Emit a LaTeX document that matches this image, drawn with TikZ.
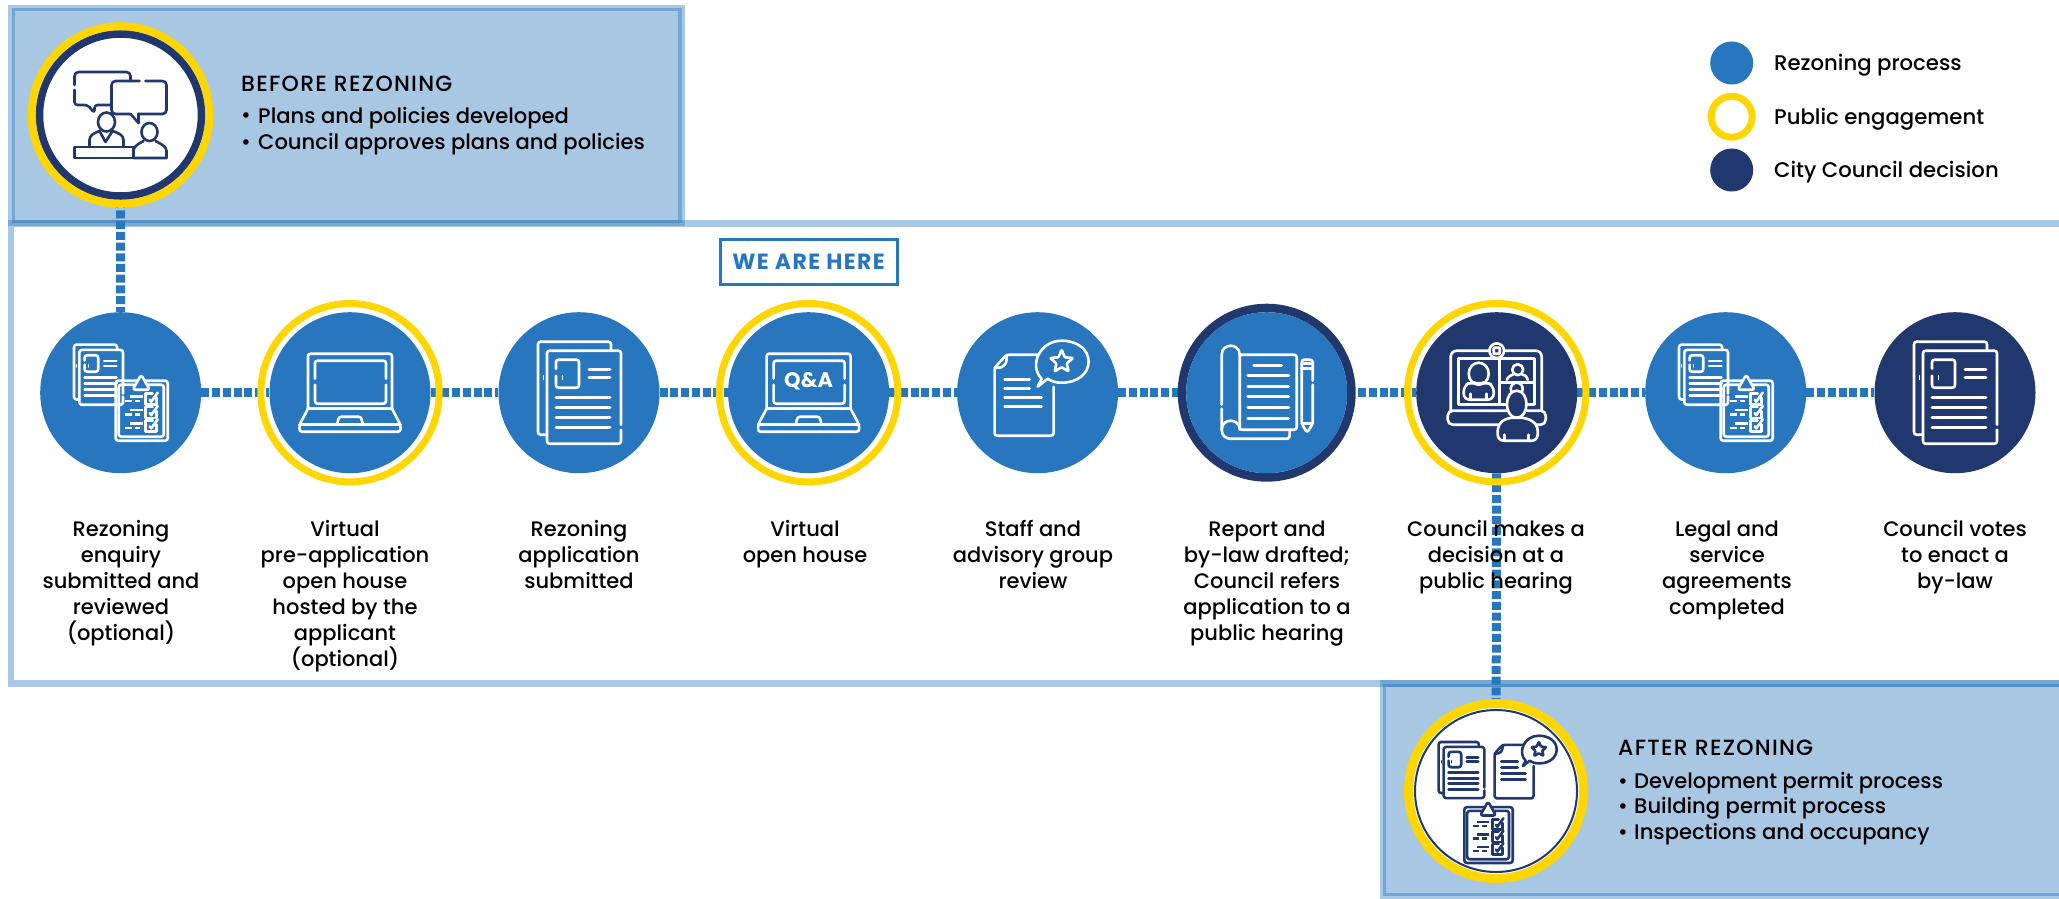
\documentclass[tikz,border=0pt]{standalone}
\usepackage{fontspec}
\setmainfont{Poppins Medium}[BoldFont=Poppins Bold]
\newfontfamily\headfont{Poppins Medium}[LetterSpace=5.8]
\newfontfamily\herefont{Poppins Bold}[LetterSpace=6.5]
\definecolor{cblue}{HTML}{2876BD}
\definecolor{cnavy}{HTML}{21386F}
\definecolor{cgold}{HTML}{FFD600}
\definecolor{cpale}{HTML}{A8C7E3}
\pgfdeclarelayer{framelayer}
\pgfdeclarelayer{connlayer}
\pgfsetlayers{framelayer,connlayer,main}
\tikzset{
  disc/.style={circle,fill=#1,inner sep=0pt,minimum size=161pt},
  ringgold/.style={circle,draw=cgold,line width=7pt,inner sep=0pt,minimum size=178.4pt},
  ringnavy/.style={circle,draw=cnavy,line width=8.5pt,inner sep=0pt,minimum size=169.5pt},
  dots/.style={cblue,line width=9pt,dash pattern=on 8pt off 2.7pt},
  band/.style={draw=cblue,draw opacity=.4,line width=6.5pt},
  steptext/.style={anchor=north,align=center,inner sep=0pt,font=\fontsize{21}{26}\selectfont,text=black},
  bodytext/.style={anchor=west,inner sep=0pt,font=\fontsize{21.1}{26}\selectfont,text=black},
  headtext/.style={anchor=west,inner sep=0pt,font=\headfont\fontsize{22}{26}\selectfont,text=black},
  legendtext/.style={anchor=west,inner sep=0pt,font=\fontsize{21.2}{26}\selectfont,text=black},
  ic/.style={line width=2.6pt,line cap=round,line join=round,rounded corners=2.5pt},
  icbg/.style={fill=cblue},
  pics/docs/.style={code={
    \draw[ic] (42,32) -- (42,-42) -- (-32,-42) -- (-32,51) -- (42,51) -- (42,37);
    \draw[ic] (32,-42) -- (32,-51) -- (-41,-51) -- (-41,42) -- (-32,42);
    \draw[ic] (-23,-24) -- (-23,-33) -- (0,-33) -- (0,-5) -- (-23,-5) -- (-23,-17);
    \draw[ic,line width=1pt] (-36,-17) -- (-36,-13) (-17,-17) -- (-17,-13);
    \foreach \yy in {-23,-15} {\draw[ic] (10,\yy) -- (31,\yy);}
    \foreach \yy in {5,15,25,35} {\draw[ic] (-23,\yy) -- (31,\yy);}
  }},
  pics/checklist/.style={code={
    \draw[ic] (-5,-12) rectangle (47,48);
    \draw[ic] (-2,-8) rectangle (43,44);
    \draw[ic,icbg] (12,-3) -- (29,-3) -- (20.5,-18) -- cycle;
    \foreach \yy in {0,13.4,26.7} {
      \begin{scope}[shift={(0,\yy)}]
        \draw[ic,rounded corners=0pt] (36,5) -- (36,12) -- (25,12) -- (25,1) -- (32,1);
        \draw[ic,rounded corners=0pt] (29,7) -- (30.5,9) -- (37,0);
        \draw[line width=2.6pt] (9,4) -- (22,4) (4,8.4) -- (11,8.4) (14,8.4) -- (19,8.4);
      \end{scope}
    }
  }},
  pics/doccheck/.style={code={
    \pic[scale=.59] at (-22.5,-18) {docs};
    \pic at (0,0) {checklist};
  }},
  pics/stardoc/.style={code={
    \draw[ic] (16,-6) -- (16,43) -- (-43,43) -- (-43,-25) -- (-31,-38) -- (0,-38);
    \draw[ic] (-43,-25) -- (-36,-25) -- (-31,-30) -- (-31,-38);
    \draw[ic] (-33,-13) -- (-8,-13) (-33,-4) -- (-8,-4) (-33,5) -- (4,5) (-33,14) -- (4,14);
    \draw[ic,rounded corners=0pt] (4,-14) .. controls (-9,-27) and (2,-52) .. (24,-52)
      .. controls (40,-52) and (51,-43) .. (51,-31) .. controls (51,-19) and (40,-10) .. (24,-10)
      .. controls (19,-10) and (14,-11) .. (10,-14) -- (0,-6) -- cycle;
    \draw[ic,rounded corners=.8pt] (24,-43) -- (27.2,-35.4) -- (35.4,-34.7) -- (29.2,-29.3) -- (31,-21.3)
      -- (24,-25.5) -- (17,-21.3) -- (18.8,-29.3) -- (12.6,-34.7) -- (20.8,-35.4) -- cycle;
  }},
  pics/laptop/.style={code={
    \draw[ic] (-42,16) -- (-42,-39) -- (42,-39) -- (42,16);
    \draw[ic] (-42,16) -- (42,16);
    \draw[ic] (-35,-14) -- (-35,-32) -- (36,-32) -- (36,-14);
    \draw[ic] (-35,-8) -- (-35,11) -- (36,11) -- (36,-8);
    \draw[ic] (-42,16) -- (-50.5,32) -- (-50.5,39) -- (50.5,39) -- (50.5,32) -- (42,16);
    \draw[ic] (-50.5,32) -- (50.5,32);
    \draw[ic] (-13,32) -- (-11,24) -- (11,24) -- (13,32);
  }},
  pics/scrollicon/.style={code={
    \draw[ic] (-27,-38) -- (30,-38) -- (30,37) -- (-27,37) -- (-27,-38);
    \draw[ic,rounded corners=0pt] (-45,12) -- (-45,-38) .. controls (-45,-50) and (-27,-50) .. (-27,-38);
    \draw[ic,rounded corners=0pt] (-45,16) -- (-45,37) .. controls (-45,43) and (-41,46) .. (-36,46) -- (21,46) .. controls (23,46) and (23,44) .. (23,37);
    \draw[ic,rounded corners=0pt] (-45,37) .. controls (-45,25) and (-27,25) .. (-27,37);
    \draw[ic] (-13,-27) -- (15,-27);
    \foreach \yy in {-17,-6,4,15,26} {\draw[ic] (-19,\yy) -- (22,\yy);}
    \draw[ic] (46,-12) -- (46,-33) -- (35,-33) -- (35,31) -- (40.5,40) -- (46,31) -- (46,-8);
    \draw[ic] (35,-29) -- (46,-29) (35,-24) -- (46,-24) (35,31) -- (46,31);
  }},
  pics/videoicon/.style={code={
    \draw[ic,rounded corners=6pt] (-46,18) -- (-46,-42) -- (45,-42) -- (45,18);
    \draw[ic,rounded corners=0pt] (-38,12) -- (-38,-34) -- (38,-34) -- (38,12) -- cycle;
    \draw[ic] (3,-34) -- (3,12) (3,-10) -- (38,-10);
    \draw[ic,fill=cnavy,rounded corners=0pt] (0,-42) circle[radius=7.3];
    \draw[ic,rounded corners=.5pt] (-3,-45) rectangle (3,-39);
    \draw[ic,rounded corners=5pt] (-49,18) -- (-49,32) -- (49,32) -- (49,18) -- cycle;
    \draw[ic] (-18,-19) ellipse[x radius=10,y radius=11];
    \draw[ic,rounded corners=6pt] (-33,7) -- (-33,-7) -- (-25,-11) -- (-18,-8) -- (-11,-11) -- (-3,-7) -- (-3,7) -- cycle;
    \draw[ic] (-26,7) -- (-26,1) (-10,7) -- (-10,1);
    \draw[ic] (21,-23) circle[radius=5.5];
    \draw[ic,rounded corners=0pt] (10,-13) .. controls (12,-17) and (16,-18) .. (17,-18.5) (25,-18.5) .. controls (27,-18) and (30,-17) .. (31,-13);
    \draw[ic,fill=cnavy] (20,-4) circle[radius=6];
    \draw[ic,fill=cnavy,rounded corners=6pt] (1,48) -- (1,32) -- (10,25) -- (30,25) -- (41,32) -- (41,48) -- cycle;
    \draw[ic,fill=cnavy,rounded corners=0pt] (20,-2) .. controls (7,-2) and (7,25) .. (20,25) .. controls (33,25) and (33,-2) .. (20,-2) -- cycle;
    \draw[ic] (8,48) -- (8,42) (32,48) -- (32,42);
  }},
  pics/talkicon/.style={code={
    \draw[ic,rounded corners=4pt] (-46,-30) -- (-46,-43) -- (10,-43) -- (10,-34);
    \draw[ic,rounded corners=3pt] (-46,-25) -- (-46,-10) -- (-33,-10) -- (-26,-2) -- (-26,-10) -- (-9,-10);
    \draw[ic,rounded corners=4pt] (19,-34) -- (-9,-34) -- (-9,-1) -- (10,-1);
    \draw[ic,rounded corners=0pt] (10,-1) -- (18,8) -- (18,-1);
    \draw[ic,rounded corners=4pt] (18,-1) -- (46,-1) -- (46,-34) -- (25,-34);
    \draw[ic] (-14,7) ellipse[x radius=8.5,y radius=9.5];
    \draw[ic,rounded corners=0pt] (-31,32) -- (-31,25) .. controls (-31,20) and (-26,18) .. (-21,16) -- (-15,27) -- (-8,16) .. controls (-2,18) and (3,20) .. (3,25) -- (3,32);
    \draw[ic,rounded corners=0pt] (-46,32) rectangle (13,43);
    \draw[ic] (29,17) ellipse[x radius=8,y radius=9];
    \draw[ic,rounded corners=0pt] (13,43) -- (13,36) .. controls (13,31) and (18,29) .. (23,26) (35,26) .. controls (40,29) and (46,31) .. (46,36) -- (46,43) -- (13,43);
  }}
}
\begin{document}
\begin{tikzpicture}[x=1pt,y=-1pt]
\useasboundingbox (0,0) rectangle (2059,898);
% panels and frame
\begin{pgfonlayer}{framelayer}
  \fill[cpale] (11.5,8) rectangle (681.5,223);
  \draw[band] (11.5,8) rectangle (681.5,223);
  \fill[cpale] (1383,683.5) rectangle (2059,896);
  \draw[band] (2059,683.5) -- (1383,683.5) -- (1383,896) -- (2059,896);
  \draw[band] (2059,223.3) -- (11,223.3) -- (11,683.5) -- (2059,683.5);
\end{pgfonlayer}
% step discs
\node[disc=cblue] (c1) at (120.7,392.7) {};
\node[ringgold] (r2) at (350,392.7) {};
\node[disc=cblue] (c2) at (350,392.7) {};
\node[disc=cblue] (c3) at (579,392.7) {};
\node[ringgold] (r4) at (808.6,392.7) {};
\node[disc=cblue] (c4) at (808.6,392.7) {};
\node[disc=cblue] (c5) at (1037.6,392.7) {};
\node[ringnavy] (r6) at (1266.7,392.7) {};
\node[disc=cblue] (c6) at (1266.7,392.7) {};
\node[ringgold] (r7) at (1496.7,392.7) {};
\node[disc=cnavy] (c7) at (1496.7,392.7) {};
\node[disc=cblue] (c8) at (1725.7,392.7) {};
\node[disc=cnavy] (c9) at (1955,392.7) {};
% panel circles
\node[circle,fill=white,draw=cnavy,line width=7.5pt,inner sep=0pt,minimum size=162pt] (before) at (120.5,115) {};
\node[circle,draw=cgold,line width=8pt,inner sep=0pt,minimum size=177.6pt] (beforering) at (120.5,115) {};
\node[circle,fill=white,draw=cgold,line width=9pt,inner sep=0pt,minimum size=175pt] (afterring) at (1496,791) {};
\node[circle,fill=white,draw=cnavy,line width=2pt,inner sep=0pt,minimum size=162pt] (after) at (1496,791) {};
% connectors
\begin{pgfonlayer}{connlayer}
  \draw[dots] (c1) -- (c2);
  \draw[dots] (c2) -- (c3);
  \draw[dots] (c3) -- (c4);
  \draw[dots] (c4) -- (c5);
  \draw[dots] (c5) -- (c6);
  \draw[dots] (c6) -- (c7);
  \draw[dots] (c7) -- (c8);
  \draw[dots] (c8) -- (c9);
  \draw[dots] (before) -- (c1);
  \draw[dots] (c7) -- (after);
\end{pgfonlayer}
% icons
\pic[color=white] at (120.7,392.7) {doccheck};
\pic[color=white] at (350,392.7) {laptop};
\pic[color=white] at (579,392.7) {docs};
\pic[color=white] at (808.6,392.7) {laptop};
\node[text=white,inner sep=0pt,font=\bfseries\fontsize{21}{21}\selectfont] (qa) at (808.6,381.5) {Q\&A};
\pic[color=white] at (1037.6,392.7) {stardoc};
\pic[color=white] at (1266.7,392.7) {scrollicon};
\pic[color=white] at (1496.7,392.7) {videoicon};
\pic[color=white] at (1725.7,392.7) {doccheck};
\pic[color=white] at (1955,392.7) {docs};
\pic[color=cnavy] at (120.5,115) {talkicon};
\pic[color=cnavy,scale=.55] at (1461.2,770) {docs};
\pic[color=cnavy,scale=.66] at (1523,770) {stardoc};
\pic[color=cnavy,scale=.93,icbg/.style={fill=white}] at (1469,818.3) {checklist};
% step labels
\node[steptext] (t1) at (121,520.5) {Rezoning\\enquiry\\submitted and\\reviewed\\(optional)};
\node[steptext] (t2) at (345,520.5) {Virtual\\pre-application\\open house\\hosted by the\\applicant\\(optional)};
\node[steptext] (t3) at (579,520.5) {Rezoning\\application\\submitted};
\node[steptext] (t4) at (805,520.5) {Virtual\\open house};
\node[steptext] (t5) at (1033,520.5) {Staff and\\advisory group\\review};
\node[steptext] (t6) at (1267,520.5) {Report and\\by-law drafted;\\Council refers\\application to a\\public hearing};
\node[steptext] (t7) at (1496,520.5) {Council makes a\\decision at a\\public hearing};
\node[steptext] (t8) at (1727,520.5) {Legal and\\service\\agreements\\completed};
\node[steptext] (t9) at (1955,520.5) {Council votes\\to enact a\\by-law};
% we are here
\node[draw=cblue,line width=3pt,text=cblue,inner sep=0pt,minimum width=177pt,minimum height=45pt,font=\herefont\fontsize{22}{24}\selectfont] (here) at (808.6,262) {WE ARE HERE};
% panel text
\node[headtext] (bh) at (241,84) {BEFORE REZONING};
\node[bodytext] (b1) at (241,118) {•};
\node[bodytext] (b1t) at (258,118) {Plans and policies developed};
\node[bodytext] (b2) at (241,144.5) {•};
\node[bodytext] (b2t) at (258,144.5) {Council approves plans and policies};
\node[headtext] (ah) at (1618,748) {AFTER REZONING};
\node[bodytext] (a1) at (1618,783.5) {•};
\node[bodytext] (a1t) at (1634,783.5) {Development permit process};
\node[bodytext] (a2) at (1618,808.5) {•};
\node[bodytext] (a2t) at (1634,808.5) {Building permit process};
\node[bodytext] (a3) at (1618,834.5) {•};
\node[bodytext] (a3t) at (1634,834.5) {Inspections and occupancy};
% legend
\node[circle,fill=cblue,inner sep=0pt,minimum size=43pt] (l1) at (1731.7,63) {};
\node[circle,draw=cgold,line width=7pt,inner sep=0pt,minimum size=41pt] (l2) at (1731.7,116.7) {};
\node[circle,fill=cnavy,inner sep=0pt,minimum size=43pt] (l3) at (1731.7,170) {};
\node[legendtext] (lt1) at (1774,65.5) {Rezoning process};
\node[legendtext] (lt2) at (1774,119) {Public engagement};
\node[legendtext] (lt3) at (1774,172.5) {City Council decision};
\end{tikzpicture}
\end{document}
